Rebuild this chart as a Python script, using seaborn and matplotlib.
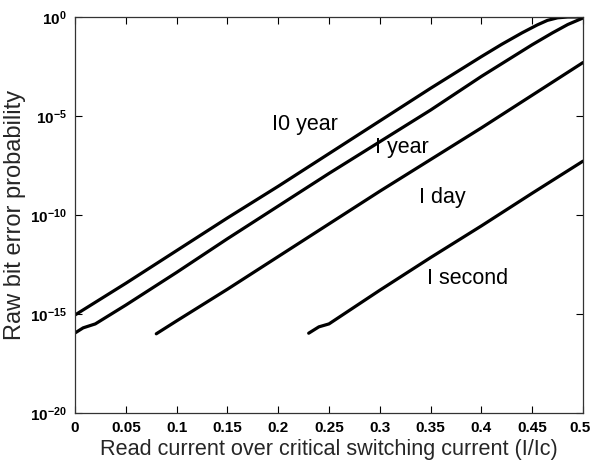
import numpy as np
import pandas as pd
import matplotlib
matplotlib.use("Agg")
import matplotlib.pyplot as plt
import matplotlib.transforms as mtransforms
import seaborn as sns

# ---- data (log10 of raw bit error probability) ----
x_10yr = [0.0, 0.05, 0.1, 0.15, 0.2, 0.25, 0.3, 0.35, 0.4, 0.42, 0.44, 0.455, 0.465, 0.475, 0.485, 0.5]
lg_10yr = [-15.05, -13.45, -11.8, -10.15, -8.55, -6.9, -5.25, -3.6, -2.0, -1.38, -0.8, -0.4, -0.17, -0.04, 0.0, 0.0]

x_1yr = [0.0, 0.008, 0.02, 0.05, 0.1, 0.15, 0.2, 0.25, 0.3, 0.35, 0.4, 0.45, 0.47, 0.485, 0.5]
lg_1yr = [-15.96, -15.7, -15.5, -14.55, -12.9, -11.2, -9.55, -7.9, -6.3, -4.7, -3.0, -1.4, -0.8, -0.38, -0.05]

x_1day = [0.08, 0.1, 0.15, 0.2, 0.25, 0.3, 0.35, 0.4, 0.45, 0.5]
lg_1day = [-16.0, -15.35, -13.75, -12.1, -10.45, -8.8, -7.2, -5.6, -3.95, -2.3]

x_1sec = [0.23, 0.24, 0.25, 0.3, 0.35, 0.4, 0.45, 0.5]
lg_1sec = [-15.97, -15.65, -15.5, -13.8, -12.15, -10.55, -8.9, -7.28]

series_names = ["I0 year", "I year", "I day", "I second"]
label_x = [0.194, 0.295, 0.339, 0.346]
label_lg = [-5.45, -6.57, -9.14, -13.2]

x_ticks = [0, 0.05, 0.1, 0.15, 0.2, 0.25, 0.3, 0.35, 0.4, 0.45, 0.5]
x_ticklabels = ["0", "0.05", "0.1", "0.15", "0.2", "0.25", "0.3", "0.35", "0.4", "0.45", "0.5"]
y_exps = [0, -5, -10, -15, -20]

frames = []
for name, xs, lgs in zip(series_names, [x_10yr, x_1yr, x_1day, x_1sec],
                         [lg_10yr, lg_1yr, lg_1day, lg_1sec]):
    frames.append(pd.DataFrame({"x": xs, "p": 10.0 ** np.array(lgs), "series": name}))
df = pd.concat(frames, ignore_index=True)

sns.set_style("ticks")
plt.rcParams["font.family"] = ["Liberation Sans", "DejaVu Sans"]
plt.rcParams["mathtext.fontset"] = "custom"
plt.rcParams["mathtext.rm"] = "Liberation Sans:bold"
plt.rcParams["mathtext.default"] = "rm"

fig = plt.figure(figsize=(5.92, 4.68), dpi=100)
ax = fig.add_axes([75 / 592, 55 / 468, 508 / 592, 396 / 468])

sns.lineplot(data=df, x="x", y="p", units="series", estimator=None, sort=False,
             color="black", linewidth=2.3, ax=ax, legend=False)
ax.set_yscale("log")
ax.set_xlim(0, 0.5)
ax.set_ylim(1e-20, 1e0)

ax.set_xticks(x_ticks)
ax.set_xticklabels(x_ticklabels, fontsize=11, fontweight="bold")
ax.set_yticks([10.0 ** e for e in y_exps])
ax.set_yticklabels([r"$10^{%d}$" % e for e in y_exps], fontsize=11)
ax.yaxis.set_minor_locator(matplotlib.ticker.NullLocator())
ax.tick_params(direction="in", length=5, width=0.8, top=True, right=True,
               colors="black", pad=6)

# keep the last x tick label inside the canvas
last = ax.get_xticklabels()[-1]
last.set_transform(last.get_transform() + mtransforms.ScaledTranslation(-3 / 100, 0, fig.dpi_scale_trans))

for s in ax.spines.values():
    s.set_color("#333333")
    s.set_linewidth(0.9)

ax.set_xlabel("Read current over critical switching current (I/Ic)", fontsize=15.6, labelpad=3)
ax.set_ylabel("Raw bit error probability", fontsize=17, labelpad=3)

for name, tx, tl in zip(series_names, label_x, label_lg):
    ax.text(tx, 10.0 ** tl, name, fontsize=15.5, ha="left", va="center", color="black")

fig.savefig("out.png", dpi=100)
